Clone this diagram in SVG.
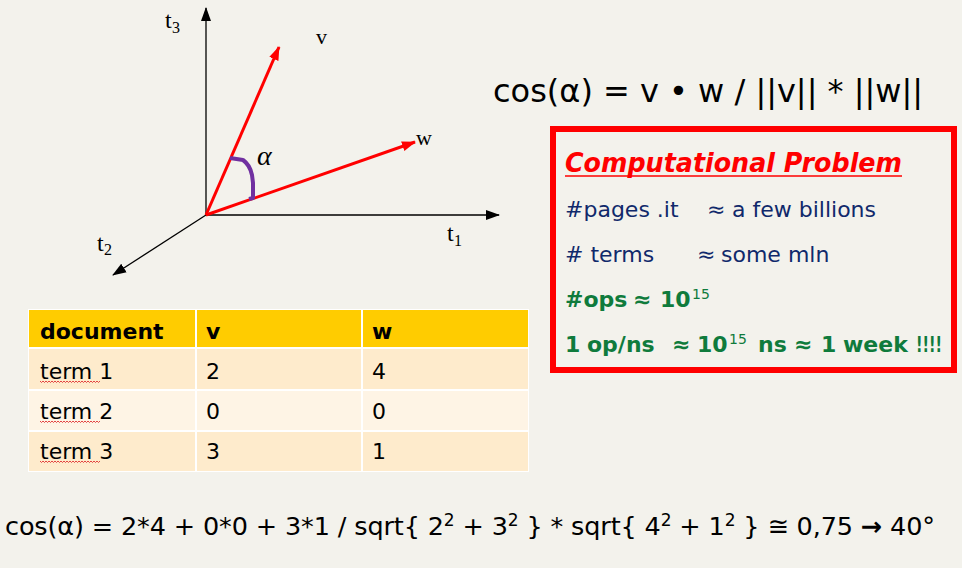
<svg xmlns="http://www.w3.org/2000/svg" width="962" height="568" viewBox="0 0 962 568">
<style>
.serif{font-family:"Liberation Serif","Times New Roman",serif;fill:#000}
.sans{font-family:"DejaVu Sans","Liberation Sans",sans-serif;fill:#000}
.navy{font-family:"DejaVu Sans","Liberation Sans",sans-serif;fill:#10296b;font-size:22px}
.green{font-family:"DejaVu Sans","Liberation Sans",sans-serif;fill:#0f7b3c;font-size:22px;font-weight:bold}
.sup{font-family:"DejaVu Sans","Liberation Sans",sans-serif;fill:#0f7b3c;font-size:14px}
.cell{font-family:"DejaVu Sans","Liberation Sans",sans-serif;font-size:22px;fill:#000}
.axis{stroke:#000;stroke-width:1.3;fill:none}
.vec{stroke:#ff0000;stroke-width:3;fill:none}
.squig{stroke:#e03030;stroke-width:0.9;fill:none}
</style>
<defs>
<marker id="ah" markerUnits="userSpaceOnUse" markerWidth="14" markerHeight="12" viewBox="0 0 14 12" refX="13" refY="6" orient="auto">
<path d="M0,1 L14,6 L0,11 Z" fill="#000"/>
</marker>
<marker id="rh" markerUnits="userSpaceOnUse" markerWidth="14" markerHeight="12" viewBox="0 0 14 12" refX="13" refY="6" orient="auto">
<path d="M0,1 L14,6 L0,11 Z" fill="#ff0000"/>
</marker>
</defs>
<rect width="962" height="568" fill="#f3f2ec"/>

<g id="connectors">
<line class="axis" x1="206" y1="215" x2="206" y2="8" marker-end="url(#ah)"/>
<line class="axis" x1="206" y1="215" x2="499" y2="215" marker-end="url(#ah)"/>
<line class="axis" x1="206" y1="215" x2="113" y2="275" marker-end="url(#ah)"/>
<line class="vec" x1="206" y1="215" x2="279" y2="47" marker-end="url(#rh)"/>
<line class="vec" x1="206" y1="215" x2="415" y2="142" marker-end="url(#rh)"/>
<path d="M230,158 L243,160 Q250,165 252,175 L253,183 L253,198 L249,199" stroke="#7030a0" stroke-width="4" fill="none" stroke-linejoin="round"/>
</g>

<g id="axis-labels">
<text class="serif" x="165" y="28" font-size="24">t<tspan x="172" y="33" font-size="16">3</tspan></text>
<text class="serif" x="447" y="241" font-size="24">t<tspan x="454" y="246" font-size="16">1</tspan></text>
<text class="serif" x="97" y="251" font-size="24">t<tspan x="104" y="255" font-size="16">2</tspan></text>
<text class="serif" x="316" y="44" font-size="22">v</text>
<text class="serif" x="416" y="145" font-size="22">w</text>
<text class="serif" x="257" y="165" font-size="28" font-style="italic">α</text>
</g>

<g id="formula-top">
<text class="sans" x="493" y="102" font-size="32" textLength="430" lengthAdjust="spacing">cos(α) = v • w / ||v|| * ||w||</text>
</g>

<g id="problem-box">
<rect x="553" y="129" width="401" height="241" fill="none" stroke="#ff0000" stroke-width="6"/>
<text x="565" y="172" font-family="DejaVu Sans, Liberation Sans, sans-serif" font-size="26" font-weight="bold" font-style="italic" fill="#ff0000" textLength="337" lengthAdjust="spacingAndGlyphs">Computational Problem</text>
<line x1="565" y1="176" x2="902" y2="176" stroke="#ff0000" stroke-width="1.5"/>
<text class="navy" x="565" y="217">#pages .it</text>
<text class="navy" x="707" y="217">≈</text>
<text class="navy" x="732" y="217">a few billions</text>
<text class="navy" x="565" y="262"># terms</text>
<text class="navy" x="697" y="262">≈</text>
<text class="navy" x="721" y="262">some mln</text>
<text class="green" x="565" y="307">#ops</text>
<text class="green" x="633" y="307">≈</text>
<text class="green" x="660" y="307">10</text>
<text class="sup" x="692" y="299">15</text>
<text class="green" x="565" y="352">1</text>
<text class="green" x="587" y="352">op/ns</text>
<text class="green" x="672" y="352">≈</text>
<text class="green" x="697" y="352">10</text>
<text class="sup" x="729" y="344">15</text>
<text class="green" x="758" y="352">ns</text>
<text class="green" x="794" y="352">≈</text>
<text class="green" x="821" y="352">1</text>
<text class="green" x="843" y="352">week</text>
<text class="green" x="916" y="352" textLength="26" lengthAdjust="spacingAndGlyphs">!!!!</text>
</g>

<g id="table">
<rect x="28" y="309" width="501" height="163" fill="#ffffff"/>
<rect x="29" y="310" width="166" height="37" fill="#ffcc00"/>
<rect x="197" y="310" width="164" height="37" fill="#ffcc00"/>
<rect x="363" y="310" width="165" height="37" fill="#ffcc00"/>
<rect x="29" y="349" width="166" height="40" fill="#feebcc"/>
<rect x="197" y="349" width="164" height="40" fill="#feebcc"/>
<rect x="363" y="349" width="165" height="40" fill="#feebcc"/>
<rect x="29" y="391" width="166" height="39" fill="#fef4e5"/>
<rect x="197" y="391" width="164" height="39" fill="#fef4e5"/>
<rect x="363" y="391" width="165" height="39" fill="#fef4e5"/>
<rect x="29" y="432" width="166" height="39" fill="#feebcc"/>
<rect x="197" y="432" width="164" height="39" fill="#feebcc"/>
<rect x="363" y="432" width="165" height="39" fill="#feebcc"/>
<text class="cell" x="40" y="339" font-weight="bold">document</text>
<text class="cell" x="206" y="339" font-weight="bold">v</text>
<text class="cell" x="372" y="339" font-weight="bold">w</text>
<text class="cell" x="40" y="379">term 1</text>
<text class="cell" x="206" y="379">2</text>
<text class="cell" x="372" y="379">4</text>
<text class="cell" x="40" y="419">term 2</text>
<text class="cell" x="206" y="419">0</text>
<text class="cell" x="372" y="419">0</text>
<text class="cell" x="40" y="459">term 3</text>
<text class="cell" x="206" y="459">3</text>
<text class="cell" x="372" y="459">1</text>
<path class="squig" d="M40,381 l1.5,1.5 1.5,-1.5 1.5,1.5 1.5,-1.5 1.5,1.5 1.5,-1.5 1.5,1.5 1.5,-1.5 1.5,1.5 1.5,-1.5 1.5,1.5 1.5,-1.5 1.5,1.5 1.5,-1.5 1.5,1.5 1.5,-1.5 1.5,1.5 1.5,-1.5 1.5,1.5 1.5,-1.5 1.5,1.5 1.5,-1.5 1.5,1.5 1.5,-1.5 1.5,1.5 1.5,-1.5 1.5,1.5 1.5,-1.5 1.5,1.5 1.5,-1.5 1.5,1.5 1.5,-1.5 1.5,1.5 1.5,-1.5 1.5,1.5 1.5,-1.5 1.5,1.5 1.5,-1.5 1.5,1.5 1.5,-1.5"/>
<path class="squig" d="M40,421 l1.5,1.5 1.5,-1.5 1.5,1.5 1.5,-1.5 1.5,1.5 1.5,-1.5 1.5,1.5 1.5,-1.5 1.5,1.5 1.5,-1.5 1.5,1.5 1.5,-1.5 1.5,1.5 1.5,-1.5 1.5,1.5 1.5,-1.5 1.5,1.5 1.5,-1.5 1.5,1.5 1.5,-1.5 1.5,1.5 1.5,-1.5 1.5,1.5 1.5,-1.5 1.5,1.5 1.5,-1.5 1.5,1.5 1.5,-1.5 1.5,1.5 1.5,-1.5 1.5,1.5 1.5,-1.5 1.5,1.5 1.5,-1.5 1.5,1.5 1.5,-1.5 1.5,1.5 1.5,-1.5 1.5,1.5 1.5,-1.5"/>
<path class="squig" d="M40,461 l1.5,1.5 1.5,-1.5 1.5,1.5 1.5,-1.5 1.5,1.5 1.5,-1.5 1.5,1.5 1.5,-1.5 1.5,1.5 1.5,-1.5 1.5,1.5 1.5,-1.5 1.5,1.5 1.5,-1.5 1.5,1.5 1.5,-1.5 1.5,1.5 1.5,-1.5 1.5,1.5 1.5,-1.5 1.5,1.5 1.5,-1.5 1.5,1.5 1.5,-1.5 1.5,1.5 1.5,-1.5 1.5,1.5 1.5,-1.5 1.5,1.5 1.5,-1.5 1.5,1.5 1.5,-1.5 1.5,1.5 1.5,-1.5 1.5,1.5 1.5,-1.5 1.5,1.5 1.5,-1.5 1.5,1.5 1.5,-1.5"/>
</g>

<g id="formula-bottom">
<text class="sans" x="5" y="535" font-size="25.5" textLength="930" lengthAdjust="spacing">cos(α) = 2*4 + 0*0 + 3*1 / sqrt{ 2<tspan dy="-9" font-size="17">2</tspan><tspan dy="9"> + 3</tspan><tspan dy="-9" font-size="17">2</tspan><tspan dy="9"> } * sqrt{ 4</tspan><tspan dy="-9" font-size="17">2</tspan><tspan dy="9"> + 1</tspan><tspan dy="-9" font-size="17">2</tspan><tspan dy="9"> } ≅ 0,75 <tspan font-weight="bold">→</tspan> 40°</tspan></text>
</g>
</svg>
